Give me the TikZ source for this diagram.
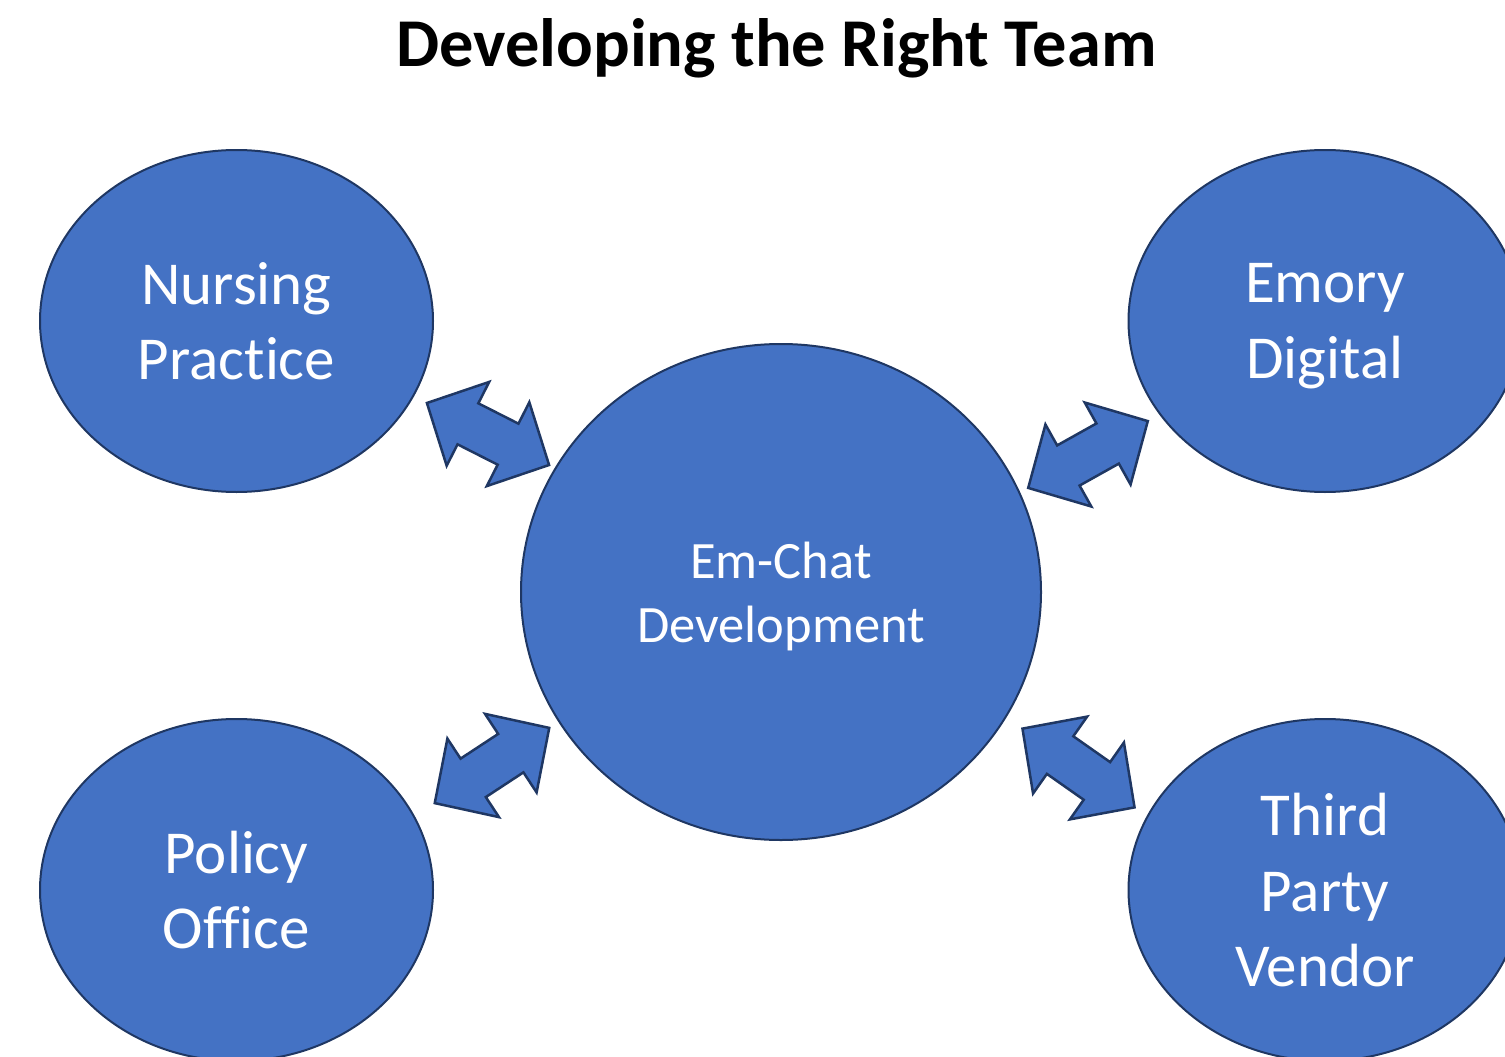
\documentclass[tikz,border=0pt]{standalone}
\usepackage{fontspec}
\setmainfont{Carlito}[Ligatures=NoCommon]
\usepackage{tikz}
\usetikzlibrary{shapes.geometric}
\definecolor{blobfill}{HTML}{4472C4}
\definecolor{blobline}{HTML}{1F3763}

\begin{document}
\begin{tikzpicture}[x=1pt,y=-1pt,
    blob/.style={ellipse,draw=blobline,fill=blobfill,line width=2pt,inner sep=0pt,
      text=white,align=center,font=\fontsize{61}{75.5}\selectfont,text depth=-2pt},
    blockarrow/.style={draw=blobline,fill=blobfill,line width=2.5pt,line join=miter}]
    \clip (0,0) rectangle (1505,1057);

    \node[font=\fontsize{68.4}{80}\selectfont\bfseries] (title) at (776.5,48) {Developing the Right Team};

    \node[blob,minimum width=520,minimum height=496,font=\fontsize{52.5}{64}\selectfont] (chat) at (781,592) {Em-Chat\\Development};
    \node[blob,minimum width=393,minimum height=342] (nursing) at (236.5,321) {Nursing\\Practice};
    \node[blob,minimum width=393,minimum height=342] (emory) at (1325,321) {Emory\\Digital};
    \node[blob,minimum width=393,minimum height=342] (policy) at (236.5,890) {Policy\\Office};
    \node[blob,minimum width=393,minimum height=342] (vendor) at (1325,890) {Third\\Party\\Vendor};

    % two-way block arrows in the gaps
    \foreach \mx/\my/\ang in {488/434/-26.9, 1088/454.5/29.2, 492/765.5/33.3, 1078.5/768/-35.1} {
      \begin{scope}[shift={(\mx,\my)},rotate=\ang]
        \draw[blockarrow] (-68.5,0) -- (-22.5,47) -- (-22.5,23) -- (22.5,23) -- (22.5,47)
          -- (68.5,0) -- (22.5,-47) -- (22.5,-23) -- (-22.5,-23) -- (-22.5,-47) -- cycle;
      \end{scope}
    }
\end{tikzpicture}
\end{document}
